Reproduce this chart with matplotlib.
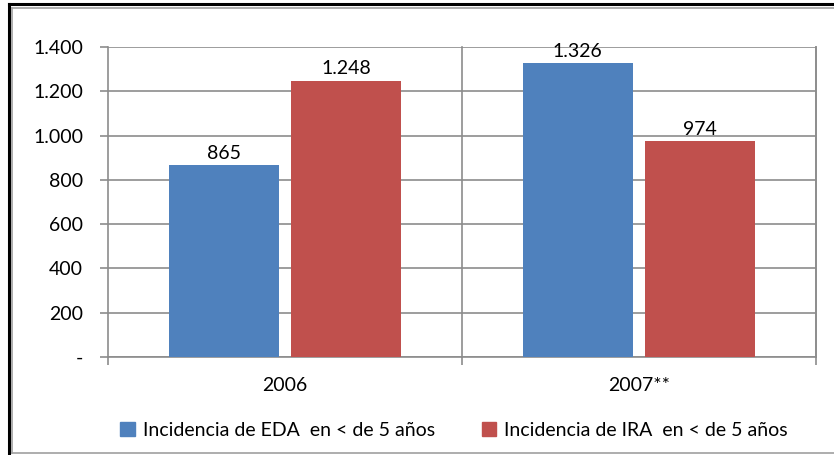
import matplotlib
matplotlib.use('Agg')
import matplotlib.pyplot as plt
from matplotlib.lines import Line2D
from matplotlib.patches import Rectangle
import numpy as np

# Data
categories = ['2006', '2007**']
eda_values = [865, 1326]
ira_values = [1248, 974]
series_names = ['Incidencia de EDA  en < de 5 años', 'Incidencia de IRA  en < de 5 años']
y_ticks = [0, 200, 400, 600, 800, 1000, 1200, 1400]
y_tick_labels = ['-', '200', '400', '600', '800', '1.000', '1.200', '1.400']

blue = '#4F81BD'
red = '#C0504D'
grid_col = '#8C8C8C'
fs = 14

plt.rcParams['font.family'] = ['Lato', 'DejaVu Sans']

W, H = 834, 455
fig = plt.figure(figsize=(W / 100, H / 100), dpi=100)


# pixel -> figure fraction
def px(x, y):
    return x / W, 1 - y / H


# black border top and left
fig.add_artist(Line2D([px(9, 0)[0], 1], [px(0, 4)[1]] * 2, color='black', lw=2.2))
fig.add_artist(Line2D([px(9, 0)[0]] * 2, [px(0, 4)[1], 0], color='black', lw=2.2))
# grey inner frame
fig.add_artist(Line2D([px(12, 0)[0], 1], [px(0, 8)[1]] * 2, color='#A0A0A0', lw=1.2))
fig.add_artist(Line2D([px(12, 0)[0]] * 2, [px(0, 8)[1], px(0, 453)[1]], color='#A0A0A0', lw=1.2))
fig.add_artist(Line2D([px(12, 0)[0], 1], [px(0, 453)[1]] * 2, color='#A0A0A0', lw=1.2))

left, bottom = px(108, 357)
right, top = px(816, 47)
ax = fig.add_axes([left, bottom, right - left, top - bottom])

x = np.arange(len(categories))
width = 0.31
off = 0.173
b1 = ax.bar(x - off, eda_values, width, color=blue, zorder=3)
b2 = ax.bar(x + off, ira_values, width, color=red, zorder=3)

for bars, vals in [(b1, eda_values), (b2, ira_values)]:
    for rect, v in zip(bars, vals):
        lbl = f'{v:,}'.replace(',', '.')
        ax.text(rect.get_x() + rect.get_width() / 2, v + 15, lbl,
                ha='center', va='bottom', fontsize=fs, color='black', zorder=4)

ax.set_xlim(-0.5, len(categories) - 0.5)
ax.set_ylim(0, 1400)
ax.set_yticks(y_ticks)
ax.set_yticklabels(y_tick_labels, fontsize=fs)
ax.yaxis.grid(True, color=grid_col, lw=1.2, zorder=0)

# category boundary lines
for b in np.arange(0.5, len(categories) - 0.5 + 0.01, 1.0):
    ax.axvline(b, color=grid_col, lw=1.2, zorder=0, clip_on=False)

ax.set_xticks(np.arange(-0.5, len(categories), 1.0))
ax.set_xticklabels([''] * (len(categories) + 1))
ax.tick_params(axis='both', color=grid_col, length=6, width=1.2)
ax.tick_params(axis='y', pad=12)
for i, c in enumerate(categories):
    ax.text(i, -0.065, c, transform=ax.get_xaxis_transform(), ha='center', va='top', fontsize=fs)

ax.spines['top'].set_visible(False)
for s in ['left', 'bottom', 'right']:
    ax.spines[s].set_color(grid_col)
    ax.spines[s].set_linewidth(1.2)

handles = [Rectangle((0, 0), 1, 1, color=blue), Rectangle((0, 0), 1, 1, color=red)]
fig.legend(handles, series_names, loc='center', bbox_to_anchor=(px(454, 0)[0], px(0, 430)[1]),
           ncol=2, frameon=False, fontsize=fs, handlelength=0.75, handleheight=0.75,
           handletextpad=0.4, columnspacing=2.4)

fig.savefig('out.png', dpi=100)
